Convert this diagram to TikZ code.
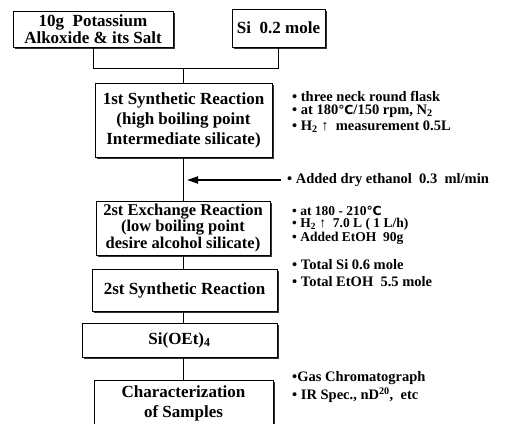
\documentclass[tikz,border=0pt]{standalone}
\usepackage{fontspec}
\setmainfont{Liberation Serif}
\newfontfamily\dejavu{DejaVu Sans}
\usetikzlibrary{arrows.meta,shadows}
\newcommand{\degc}{{\dejavu\fontsize{12.5}{12.5}\selectfont ℃}}
\begin{document}
\begin{tikzpicture}[x=1pt,y=-1pt,
  box/.style={draw, line width=0.8pt, fill=white, align=center, inner sep=0pt,
    font=\bfseries\fontsize{17}{20}\selectfont,
    drop shadow={shadow xshift=2pt, shadow yshift=-2pt, fill=black!80, opacity=1}},
  note/.style={anchor=west, inner sep=0pt, font=\bfseries\fontsize{14.5}{14}\selectfont},
  tight/.style={note, font=\bfseries\fontsize{13.5}{13}\selectfont},
  conn/.style={line width=1pt}]
\clip (0,0) rectangle (511,423);
\fill[white] (0,0) rectangle (511,423);
% boxes
\node[box, minimum width=160pt, minimum height=36pt, font=\bfseries\fontsize{17}{12.5}\selectfont] (alk) at (93,29) {10g~~Potassium\\Alkoxide \& its Salt};
\node[box, minimum width=93pt, minimum height=38pt] (si) at (278.5,28) {Si~~0.2 mole};
\node[box, minimum width=177pt, minimum height=74pt] (syn1) at (183.5,120) {1st Synthetic Reaction\\(high boiling point\\Intermediate silicate)};
\node[box, minimum width=174pt, minimum height=54pt, font=\bfseries\fontsize{16.5}{16.5}\selectfont] (exch) at (183,228) {2st Exchange Reaction\\(low boiling point\\desire alcohol silicate)};
\node[box, minimum width=185pt, minimum height=42pt] (syn2) at (184.5,290) {2st Synthetic Reaction};
\node[box, minimum width=195pt, minimum height=34pt] (sioet) at (179.5,340) {Si(OEt)\textsubscript{4}};
\node[box, minimum width=179pt, minimum height=46pt] (char) at (183.5,403) {Characterization\\of Samples};
% connectors
\coordinate (j) at (183,68);
\draw[conn] (alk.south) -- (alk.south |- j) -- (si.south |- j) -- (si.south);
\draw[conn] (j) -- (j |- syn1.north);
\draw[conn] (j |- syn1.south) -- (j |- exch.north);
\draw[conn] (j |- exch.south) -- (j |- syn2.north);
\draw[conn] (j |- syn2.south) -- (j |- sioet.north);
\draw[conn] (j |- sioet.south) -- (j |- char.north);
% notes
\node[note] (n1) at (292,96) {\textbullet\ three neck round flask};
\node[note] (n2) at (292,111) {\textbullet\ at 180\degc/150 rpm, N\textsubscript{2}};
\node[note] (n3) at (292,126.5) {\textbullet\ H\textsubscript{2} ↑~~measurement 0.5L};
\node[note] (n4) at (287,180) {\textbullet\ Added dry ethanol~~0.3~~ml/min};
\node[tight] (n5) at (292,211) {\textbullet\ at 180 - 210\degc};
\node[tight] (n6) at (292,224.5) {\textbullet\ H\textsubscript{2} ↑~~7.0 L ( 1 L/h)};
\node[tight] (n7) at (292,238) {\textbullet\ Added EtOH~~90g};
\node[note] (n8) at (292,265) {\textbullet\ Total Si 0.6 mole};
\node[note] (n9) at (292,282) {\textbullet\ Total EtOH~~5.5 mole};
\node[note] (n10) at (292,378) {\textbullet Gas Chromatograph};
\node[note] (n11) at (292,395) {\textbullet\ IR Spec., nD\textsuperscript{20},~~etc};
% arrow
\coordinate (atip) at (187,180);
\draw[line width=1.8pt, shorten <=6pt, -{Triangle[length=11pt,width=7pt]}] (n4.west) -- (atip);
\end{tikzpicture}
\end{document}
